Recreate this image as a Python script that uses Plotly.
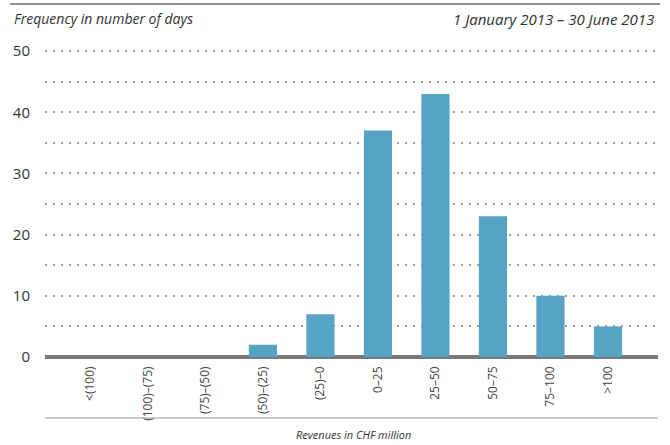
import plotly.graph_objects as go

categories = ["<(100)", "(100)–(75)", "(75)–(50)", "(50)–(25)", "(25)–0",
              "0–25", "25–50", "50–75", "75–100", ">100"]
days = [0, 0, 0, 2, 7, 37, 43, 23, 10, 5]
y_ticks = [0, 10, 20, 30, 40, 50]

W, H = 670, 445
L, R, T, B = 45, 12, 48, 88
pw = W - L - R
ph = H - T - B

def px_x(x):
    return (x - L) / pw

def px_y(y):
    return (H - B - y) / ph

fig = go.Figure()
fig.add_trace(go.Bar(
    x=list(range(len(categories))), y=days,
    marker=dict(color="#56a3c3", line=dict(width=0)),
    width=0.49,
))

fig.update_layout(
    width=W, height=H,
    margin=dict(l=L, r=R, t=T, b=B, autoexpand=False),
    plot_bgcolor="white", paper_bgcolor="white",
    showlegend=False,
    font=dict(family="Open Sans, sans-serif", color="#333"),
    xaxis=dict(
        range=[-0.79, 9.87], automargin=False,
        tickmode="array", tickvals=list(range(len(categories))), ticktext=categories,
        tickangle=-90, tickfont=dict(size=12, color="#444"),
        ticklabelstandoff=6,
        showgrid=False, zeroline=False, showline=False, ticks="",
        fixedrange=True,
    ),
    yaxis=dict(
        range=[0, 50.5], automargin=False,
        tickmode="array", tickvals=y_ticks,
        tickfont=dict(size=15, color="#333"),
        ticklabelstandoff=14,
        showgrid=True, gridcolor="#a0a0a0", gridwidth=1.5, griddash="2px,6px",
        minor=dict(tickmode="array", tickvals=[5, 15, 25, 35, 45], showgrid=True,
                   gridcolor="#a0a0a0", gridwidth=1.5, griddash="2px,6px"),
        zeroline=True, zerolinecolor="#77787b", zerolinewidth=4,
        showline=False, ticks="",
        fixedrange=True,
    ),
)

shapes = [
    dict(type="line", xref="paper", yref="paper", layer="above",
         x0=px_x(10), x1=px_x(660), y0=px_y(4), y1=px_y(4),
         line=dict(color="#909090", width=2)),
    dict(type="line", xref="paper", yref="paper",
         x0=0, x1=1, y0=px_y(418), y1=px_y(418),
         line=dict(color="#9a9a9a", width=1.2)),
]
fig.update_layout(shapes=shapes)

fig.add_annotation(text="<i>Frequency in number of days</i>", xref="paper", yref="paper",
                   x=px_x(12), y=px_y(19), xanchor="left", yanchor="middle",
                   showarrow=False, font=dict(size=14, color="#333"))
fig.add_annotation(text="<i>1 January 2013 – 30 June 2013</i>", xref="paper", yref="paper",
                   x=px_x(656), y=px_y(19), xanchor="right", yanchor="middle",
                   showarrow=False, font=dict(size=15, color="#333"))
fig.add_annotation(text="<i>Revenues in CHF million</i>", xref="paper", yref="paper",
                   x=px_x(353), y=px_y(435), xanchor="center", yanchor="middle",
                   showarrow=False, font=dict(size=11, color="#333"))

fig.write_html("out.html", config={"displayModeBar": False},
               post_script="document.body.style.margin='0';document.body.style.overflow='hidden';")
